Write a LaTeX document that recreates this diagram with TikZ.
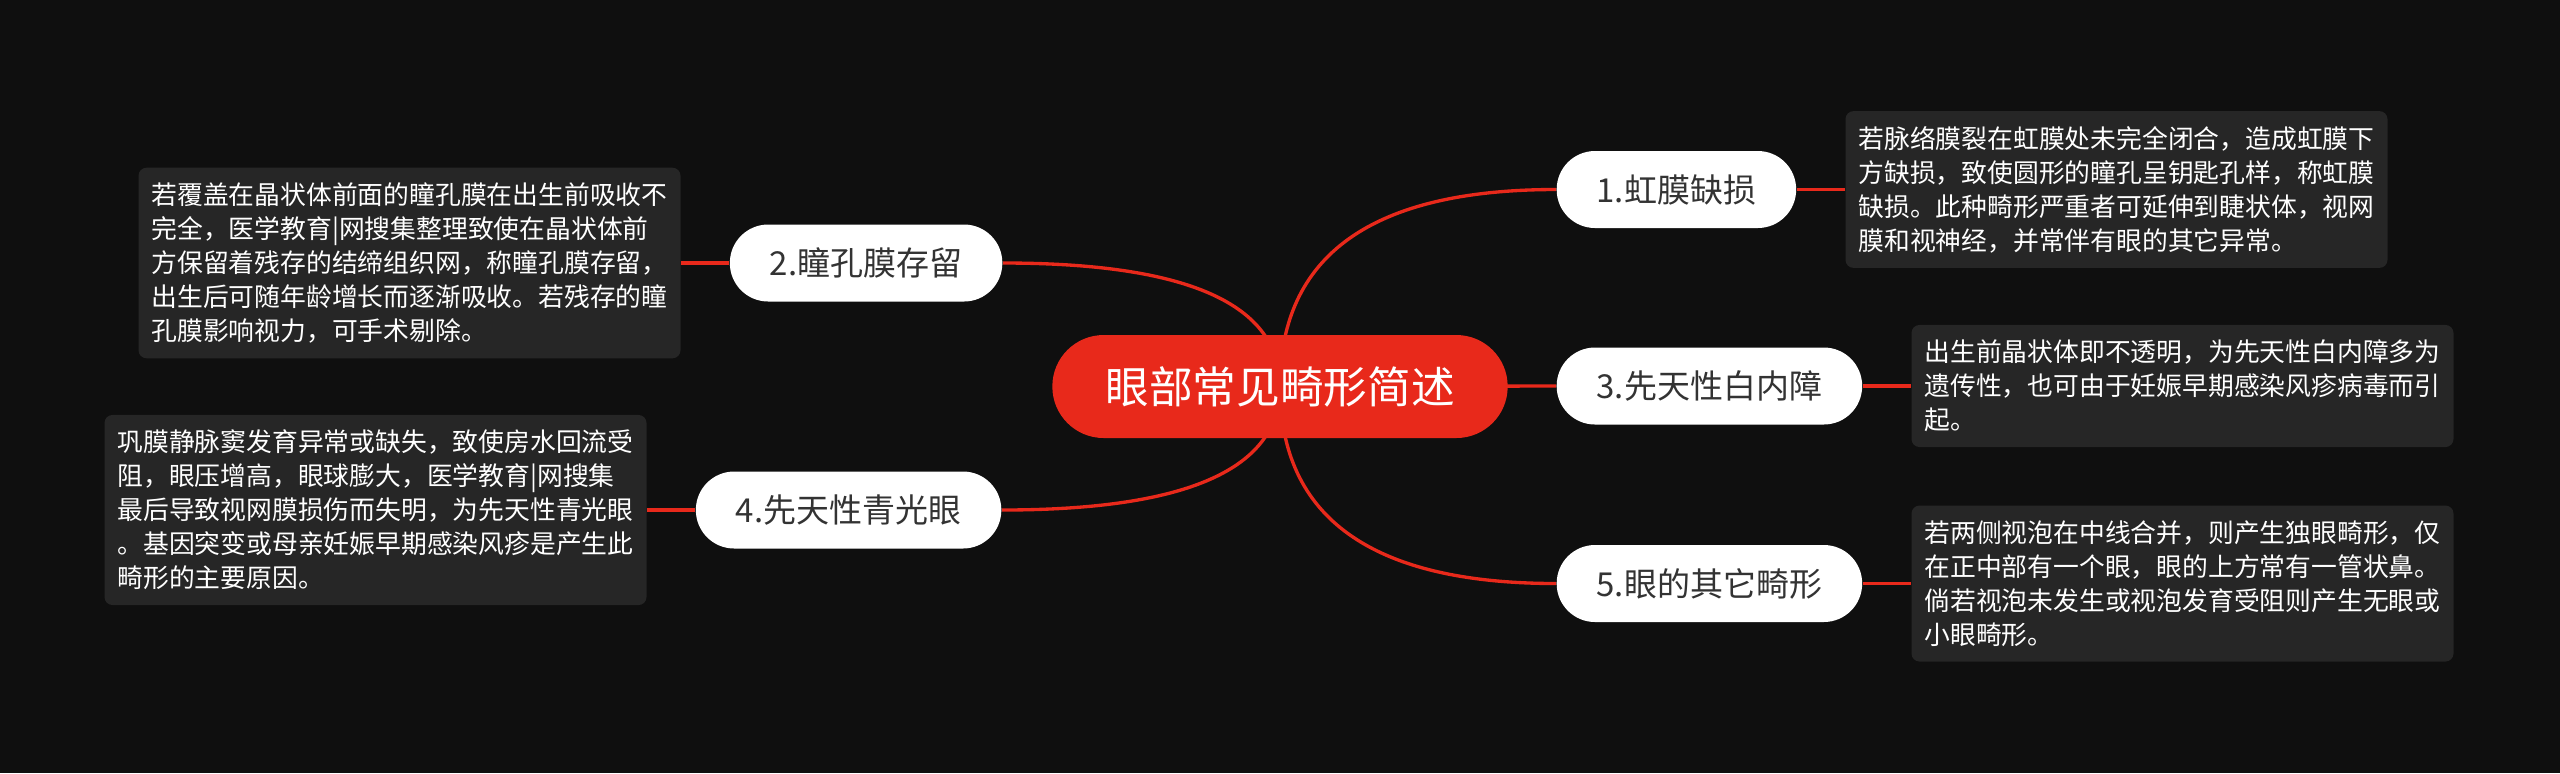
\documentclass[tikz,border=0pt]{standalone}
\usepackage{fontspec}
\setmainfont{Noto Sans CJK SC}
\usepackage{tikz}
\usetikzlibrary{positioning,backgrounds,calc}
\definecolor{bgdark}{HTML}{0F0F0F}
\definecolor{rootred}{HTML}{E8291B}
\definecolor{notegray}{HTML}{262626}
\definecolor{topictext}{HTML}{333333}

\begin{document}
\begin{tikzpicture}[x=0.3pt,y=-0.3pt,
  root/.style={fill=rootred,text=white,rounded corners=15.4pt,minimum height=30.9pt,inner xsep=15.9pt,font=\fontsize{13.1}{15}\selectfont},
  topic/.style={fill=white,text=topictext,rounded corners=11.5pt,minimum height=23.1pt,inner xsep=12pt,font=\fontsize{9.9}{12}\selectfont},
  note/.style={fill=notegray,text=white,rounded corners=2.4pt,text width=154.8pt,align=left,inner xsep=3.9pt,inner ysep=4.5pt,font=\fontsize{7.74}{10.2}\selectfont},
  link/.style={draw=rootred,line width=1pt},
  node distance=14.4pt]
  \useasboundingbox (0,0) rectangle (2560,773);
  \begin{scope}[on background layer]
    \fill[bgdark] (0,0) rectangle (2560,773);
  \end{scope}

  \node[root] (root) at (1280,386.5) {眼部常见畸形简述};

  \node[topic,anchor=west] (t1) at (1556,189.5) {1.虹膜缺损};
  \node[topic,anchor=east] (t2) at (1003,263) {2.瞳孔膜存留};
  \node[topic,anchor=west] (t3) at (1556,386) {3.先天性白内障};
  \node[topic,anchor=east] (t4) at (1002,510) {4.先天性青光眼};
  \node[topic,anchor=west] (t5) at (1556,583.5) {5.眼的其它畸形};

  \node[note,right=of t1] (n1) {若脉络膜裂在虹膜处未完全闭合，造成虹膜下\\方缺损，致使圆形的瞳孔呈钥匙孔样，称虹膜\\缺损。此种畸形严重者可延伸到睫状体，视网\\膜和视神经，并常伴有眼的其它异常。};
  \node[note,left=of t2] (n2) {若覆盖在晶状体前面的瞳孔膜在出生前吸收不\\完全，医学教育|网搜集整理致使在晶状体前\\方保留着残存的结缔组织网，称瞳孔膜存留，\\出生后可随年龄增长而逐渐吸收。若残存的瞳\\孔膜影响视力，可手术剔除。};
  \node[note,right=of t3] (n3) {出生前晶状体即不透明，为先天性白内障多为\\遗传性，也可由于妊娠早期感染风疹病毒而引\\起。};
  \node[note,left=of t4] (n4) {巩膜静脉窦发育异常或缺失，致使房水回流受\\阻，眼压增高，眼球膨大，医学教育|网搜集\\最后导致视网膜损伤而失明，为先天性青光眼\\。基因突变或母亲妊娠早期感染风疹是产生此\\畸形的主要原因。};
  \node[note,right=of t5] (n5) {若两侧视泡在中线合并，则产生独眼畸形，仅\\在正中部有一个眼，眼的上方常有一管状鼻。\\倘若视泡未发生或视泡发育受阻则产生无眼或\\小眼畸形。};

  \begin{scope}[on background layer]
    \foreach \t/\a in {t1/west,t2/east,t4/east,t5/west}
      \draw[link] (root.center) .. controls ($(root.center)!0.667!(root.center |- \t.\a)$)
        and ($(\t.\a)!0.667!(root.center |- \t.\a)$) .. (\t.\a);
    \draw[link] (root.center) -- (t3.west);
    \draw[link] (t1.east) -- (n1.west);
    \draw[link] (t2.west) -- (n2.east);
    \draw[link] (t3.east) -- (n3.west);
    \draw[link] (t4.west) -- (n4.east);
    \draw[link] (t5.east) -- (n5.west);
  \end{scope}
\end{tikzpicture}
\end{document}
